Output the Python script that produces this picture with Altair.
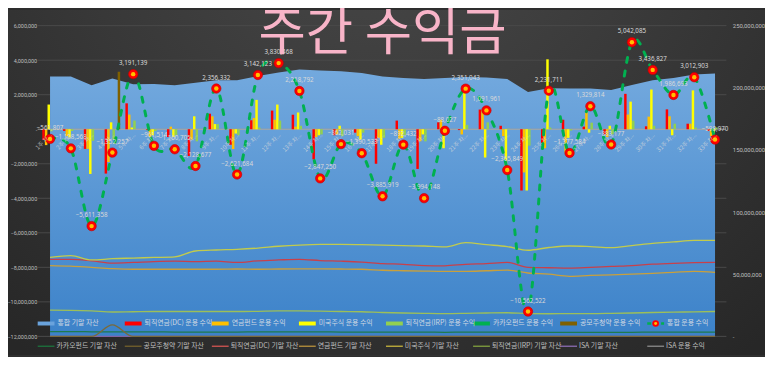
import altair as alt
import pandas as pd

# ---------------- data ----------------
weeks = ["1주 차", "2주 차", "3주 차", "4주 차", "5주 차", "6주 차", "7주 차", "8주 차",
         "9주 차", "10주 차", "11주 차", "12주 차", "13주 차", "14주 차", "15주 차", "16주 차",
         "17주 차", "18주 차", "19주 차", "20주 차", "21주 차", "22주 차", "23주 차", "24주 차",
         "25주 차", "26주 차", "27주 차", "28주 차", "29주 차", "30주 차", "31주 차", "32주 차",
         "33주 차"]

# 통합 운용 수익 (원)
total_profit = [-561807, -1108568, -5611358, -1352257, 3191139, -961514, -1160705, -2128677,
                2356332, -2621684, 3142123, 3830468, 2218792, -2847250, -862031, -1390533,
                -3885919, -892432, -3994148, -88027, 2351043, 1091961, -2365849, -10562522,
                2231711, -1377584, 1329814, -883177, 5042085, 3436827, 1986693, 3012903,
                -598970]

# 운용 수익 by account (천원)
dc_profit_k = [-620, -100, -1140, -2570, 1500, -50, -450, -1550, 900, -900, 520, 1080, 840,
               -1750, -350, -200, -2000, 500, -2300, 400, -50, 1140, 200, -3550, -800, 550,
               150, -300, 2050, 170, 1150, 320, -100]
fund_profit_k = [-920, -400, -1140, -1900, 850, -450, 150, -600, 750, -1150, 650, 550, 150,
                 -450, -300, -400, -500, -550, -700, 550, -300, 1100, -400, -2500, -1100,
                 -1350, 1000, -450, 850, 730, 750, 320, -400]
us_profit_k = [1430, -480, -2590, 400, 100, -350, -450, 750, 300, -250, 1700, 1430, 970, -350,
               200, -600, -900, -500, -300, -1100, 2450, -1640, -2200, -3550, 4050, -500, -200,
               200, 1600, 2300, -350, 2250, -200]
irp_profit_k = [-120, -100, -670, -600, 500, -100, -350, -700, 300, -350, 100, 500, 200, -300,
                -400, -200, -500, -350, -700, 50, 250, 400, 30, -950, 100, -80, 380, -300, 500,
                200, 320, 100, 100]
kakao_profit_k = [0, 0, 0, 0, 0, 0, 0, 0, 0, 0, 0, 0, 0, 0, 0, 0, 0, 0, 0, 0, 0, 0, 0, 0, 0,
                  0, 0, 0, 0, 0, 0, 0, 0]
ipo_profit_k = [0, 0, 0, 3330, 0, 0, 0, 0, 0, 0, 0, 0, 0, 0, 0, 0, 0, 0, 0, 0, 0, 0, 0, 0, 0,
                0, 0, 0, 0, 0, 0, 0, 0]
isa_profit_k = [0, 0, 0, 0, 0, 0, 0, 0, 0, 0, 0, 0, 0, 0, 0, 0, 0, 0, 0, 0, 0, 0, 0, 0, 0,
                0, 0, 0, 0, 0, 0, 0, 0]

# 기말 자산 (백만원)
total_asset_m = [209, 209, 202, 207.5, 202.8, 203, 202, 204, 206, 206, 209.4, 212.4, 214.7, 214,
                 213.4, 212, 209, 207.8, 207, 207.8, 208.6, 208.2, 207, 196.7, 199.6, 199.4,
                 199.4, 198.2, 202.2, 206, 207.8, 210.7, 211.5]
us_asset_m = [63.5, 65, 61.5, 62.5, 63, 63.5, 64, 68.7, 69.5, 70, 71, 72.5, 73.5, 74, 74, 73.8,
              73.5, 73, 72.7, 72, 75.4, 73.8, 72.2, 69.3, 71.5, 72.7, 72.2, 71.4, 73, 74.8, 76,
              77.2, 77.2]
dc_asset_m = [62, 62, 60.8, 59, 59.5, 60.2, 60.5, 60.2, 60.5, 59.5, 60.8, 61.5, 62, 61, 60.5,
              59.8, 58.6, 58, 57, 56.8, 58, 58.6, 59.5, 55.5, 55.2, 54.9, 55.5, 56.3, 57, 58.1,
              58.8, 59.3, 59.5]
fund_asset_m = [57, 56.5, 55.5, 54.5, 54, 54, 54, 54, 54, 54.2, 54, 54.2, 54.3, 54.3, 54.2, 54,
                53.2, 52.8, 52.5, 52.3, 52.3, 52.8, 53.3, 51, 50, 48.3, 49, 49.4, 50, 50.7,
                51.5, 52.3, 51.5]
irp_asset_m = [21.2, 21, 20.5, 19.6, 19.8, 20, 20, 20, 20, 20, 20.2, 20.5, 20.5, 20.3, 20, 19.8,
               19.2, 18.8, 18.5, 18.3, 18.5, 18.8, 19, 18.3, 18.2, 18.3, 18.3, 18.5, 18.8, 19.2,
               19.5, 19.7, 20]
kakao_asset_m = [3.8, 3.8, 3.7, 3.6, 3.6, 3.6, 3.5, 3.5, 3.5, 3.5, 3.6, 3.6, 3.6, 3.6, 3.5,
                 3.5, 3.4, 3.4, 3.4, 3.3, 3.4, 3.4, 3.4, 3.2, 3.2, 3.2, 3.2, 3.3, 3.3, 3.4, 3.4,
                 3.5, 3.5]
ipo_asset_m = [0, 0, 0, 9.2, 0, 0, 0, 0, 0, 0, 0, 0, 0, 0, 0, 0, 0, 0, 0, 0, 0, 0, 0, 0, 0, 0,
               0, 0, 0, 0, 0, 0, 0]
isa_asset_m = [0, 0, 0, 0, 0, 0, 0, 0, 0, 0, 0, 0, 0, 0, 0, 0, 0, 0, 0, 0, 0, 0, 0, 0, 0, 0,
               0, 0, 0, 0, 0, 0, 0]

left_ticks = [-12000000, -10000000, -8000000, -6000000, -4000000, -2000000, 0,
              2000000, 4000000, 6000000]
right_ticks = [0, 50000000, 100000000, 150000000, 200000000, 250000000]

bar_series = ["퇴직연금(DC) 운용 수익", "연금펀드 운용 수익", "미국주식 운용 수익",
              "퇴직연금(IRP) 운용 수익", "카카오펀드 운용 수익", "공모주청약 운용 수익"]
bar_colors = ["#ff0000", "#ffc000", "#ffff00", "#92d050", "#00b050", "#7f6000"]
bar_values = [dc_profit_k, fund_profit_k, us_profit_k, irp_profit_k, kakao_profit_k, ipo_profit_k]

asset_series = ["ISA 기말 자산", "카카오펀드 기말 자산", "공모주청약 기말 자산", "퇴직연금(IRP) 기말 자산",
                "연금펀드 기말 자산", "퇴직연금(DC) 기말 자산", "미국주식 기말 자산"]
asset_colors = ["#8064a2", "#1f7a4f", "#7a6a3a", "#9cbf5a", "#c9a03c", "#c8404a", "#c2cb4c"]
asset_values = [isa_asset_m, kakao_asset_m, ipo_asset_m, irp_asset_m, fund_asset_m, dc_asset_m,
                us_asset_m]

legend1_names = ["통합 기말 자산", "퇴직연금(DC) 운용 수익", "연금펀드 운용 수익", "미국주식 운용 수익",
                 "퇴직연금(IRP) 운용 수익", "카카오펀드 운용 수익", "공모주청약 운용 수익", "통합 운용 수익"]
legend1_colors = ["#6aa3dc", "#ff0000", "#ffc000", "#ffff00", "#92d050", "#00b050", "#7f6000",
                  "#00b050"]
legend2_names = ["카카오펀드 기말 자산", "공모주청약 기말 자산", "퇴직연금(DC) 기말 자산", "연금펀드 기말 자산",
                 "미국주식 기말 자산", "퇴직연금(IRP) 기말 자산", "ISA 기말 자산", "ISA 운용 수익"]
legend2_colors = ["#1d6b3a", "#6b5a2b", "#c0504d", "#a8863a", "#b4a43a", "#77933c", "#8064a2",
                  "#7f7f7f"]

# ---------------- tables ----------------
W, H = 693, 314
PAD = {"left": 32, "top": 16, "right": 40, "bottom": 19}

df_week = pd.DataFrame({
    "week": weeks,
    "wlabel": [w + "..." for w in weeks],
    "total": total_profit,
    "asset": [v * 1e6 for v in total_asset_m],
    "isa": [v * 1e3 for v in isa_profit_k],
    "zero": [0] * len(weeks),
})

bar_rows = []
for s, vals in zip(bar_series, bar_values):
    for w, v in zip(weeks, vals):
        bar_rows.append({"week": w, "series": s, "value": v * 1e3})
df_bars = pd.DataFrame(bar_rows)

line_rows = []
for s, vals in zip(asset_series, asset_values):
    for w, v in zip(weeks, vals):
        line_rows.append({"week": w, "series": s, "value": v * 1e6})
df_lines = pd.DataFrame(line_rows)

STEP = 88
X0 = -2
ROW1_Y, ROW2_Y = 301, 324
df_leg1 = pd.DataFrame({
    "label": legend1_names, "c": legend1_colors,
    "lx": [X0 + i * STEP for i in range(8)], "lx2": [X0 + i * STEP + 17 for i in range(8)],
    "tx": [X0 + i * STEP + 20 for i in range(8)], "ly": [ROW1_Y] * 8,
    "mx": [X0 + i * STEP + 8.5 for i in range(8)],
})
df_leg2 = pd.DataFrame({
    "label": legend2_names, "c": legend2_colors,
    "lx": [X0 + i * STEP for i in range(8)], "lx2": [X0 + i * STEP + 17 for i in range(8)],
    "tx": [X0 + i * STEP + 19 for i in range(8)], "ly": [ROW2_Y] * 8,
})

# ---------------- scales / encodings ----------------
LEFT = alt.Scale(domain=[-12000000, 6000000], nice=False, zero=False)
RIGHT = alt.Scale(domain=[0, 250000000], nice=False)
xenc = alt.X("week:N", sort=weeks, axis=None,
             scale=alt.Scale(type="band", paddingInner=0, paddingOuter=0))
FONT_NUM = "Noto Sans"
FONT_AX = "Liberation Sans Narrow, Roboto, Noto Sans"
FONT_KR = "Noto Sans CJK KR"
LBL = "#bfbfbf"
one = pd.DataFrame({"a": [0]})

bg_grad = {"gradient": "radial", "x1": 0.5, "y1": 0.08, "x2": 0.5, "y2": 0.08,
           "r1": 0, "r2": 0.8,
           "stops": [{"offset": 0, "color": "#4b4b4b"}, {"offset": 1, "color": "#272727"}]}
area_grad = {"gradient": "linear", "x1": 0, "y1": 0, "x2": 0, "y2": 1,
             "stops": [{"offset": 0, "color": "#73a9de"}, {"offset": 1, "color": "#3c82c9"}]}

bg = alt.Chart(one).mark_rect(fill=bg_grad).encode(
    x=alt.value(-PAD["left"]), x2=alt.value(W + PAD["right"]),
    y=alt.value(-PAD["top"]), y2=alt.value(H + PAD["bottom"]))

grid = alt.Chart(pd.DataFrame({"v": left_ticks})).mark_rule(color="#4a4a4a", strokeWidth=1).encode(
    y=alt.Y("v:Q", scale=LEFT, axis=alt.Axis(
        orient="left", values=left_ticks, grid=False, domain=False, ticks=False, title=None,
        labelExpr="datum.value == 0 ? '-' : format(datum.value, ',')",
        labelColor=LBL, labelFontSize=5.5, labelFont=FONT_AX, labelPadding=3, zindex=1)),
    x=alt.value(-2), x2=alt.value(W + 1))

area = alt.Chart(df_week).mark_area(fill=area_grad, interpolate="linear").encode(
    x=xenc,
    y=alt.Y("asset:Q", scale=RIGHT, axis=alt.Axis(
        orient="right", values=right_ticks, grid=False, domain=False, ticks=False, title=None,
        labelExpr="datum.value == 0 ? '-' : format(datum.value, ',')",
        labelColor=LBL, labelFontSize=6, labelFont=FONT_AX, labelPadding=7, zindex=1)))

asset_lines = alt.Chart(df_lines).mark_line(strokeWidth=1.3, interpolate="monotone").encode(
    x=xenc,
    y=alt.Y("value:Q", scale=RIGHT, axis=None),
    color=alt.Color("series:N", scale=alt.Scale(domain=asset_series, range=asset_colors),
                    legend=None))

isa_line = alt.Chart(df_week).mark_line(color="#7f7f7f", strokeWidth=1).encode(
    x=xenc, y=alt.Y("isa:Q", scale=LEFT, axis=None))

zero_line = alt.Chart(one).mark_rule(color="#d0d0d0", opacity=0.55, strokeWidth=1).encode(
    y=alt.Y("a:Q", scale=LEFT, axis=None), x=alt.value(-2), x2=alt.value(W))

bars = alt.Chart(df_bars).mark_bar().encode(
    x=xenc,
    xOffset=alt.XOffset("series:N", sort=bar_series,
                        scale=alt.Scale(paddingInner=0.05, paddingOuter=1)),
    y=alt.Y("value:Q", scale=LEFT, axis=None),
    color=alt.Color("series:N", scale=alt.Scale(domain=bar_series, range=bar_colors),
                    legend=None))

combo = alt.Chart(df_week).mark_line(color="#00b050", strokeWidth=3, strokeDash=[5, 9],
                                     strokeCap="round", interpolate="cardinal").encode(
    x=xenc, y=alt.Y("total:Q", scale=LEFT, axis=None))

mk_outer = alt.Chart(df_week).mark_circle(size=90, color="#ff0000", opacity=1,
                                          stroke="#c00000", strokeWidth=0.6).encode(
    x=xenc, y=alt.Y("total:Q", scale=LEFT, axis=None))
mk_inner = alt.Chart(df_week).mark_circle(size=20, color="#ffc000", opacity=1).encode(
    x=xenc, y=alt.Y("total:Q", scale=LEFT, axis=None))

dlabels = alt.Chart(df_week).mark_text(dy=-11, fontSize=6.3, color="#d9d9d9",
                                       font=FONT_NUM).encode(
    x=xenc, y=alt.Y("total:Q", scale=LEFT, axis=None),
    text=alt.Text("total:Q", format=","))

xlabels = alt.Chart(df_week).mark_text(angle=315, align="right", baseline="middle",
                                       dx=-2.8, dy=4.2, fontSize=6, color="#dcdcdc",
                                       opacity=0.75, font=FONT_KR).encode(
    x=xenc, y=alt.Y("zero:Q", scale=LEFT, axis=None), text="wlabel:N")

title = alt.Chart(one).mark_text(text="주간 수익금", fontSize=52, color="#f8b4c8",
                                 font=FONT_KR, align="center", baseline="middle").encode(
    x=alt.value(W / 2), y=alt.value(9))

# legend row 1
leg1_bars = alt.Chart(df_leg1.iloc[:7]).mark_rule(strokeWidth=4).encode(
    x=alt.X("lx:Q", scale=None), x2="lx2:Q", y=alt.Y("ly:Q", scale=None),
    color=alt.Color("c:N", scale=None))
leg1_line = alt.Chart(df_leg1.iloc[7:]).mark_rule(strokeWidth=2.5, strokeDash=[4, 3]).encode(
    x=alt.X("lx:Q", scale=None), x2="lx2:Q", y=alt.Y("ly:Q", scale=None),
    color=alt.Color("c:N", scale=None))
leg1_mk_o = alt.Chart(df_leg1.iloc[7:]).mark_circle(size=45, color="#ff0000", opacity=1).encode(
    x=alt.X("mx:Q", scale=None), y=alt.Y("ly:Q", scale=None))
leg1_mk_i = alt.Chart(df_leg1.iloc[7:]).mark_circle(size=9, color="#ffc000", opacity=1).encode(
    x=alt.X("mx:Q", scale=None), y=alt.Y("ly:Q", scale=None))
leg1_text = alt.Chart(df_leg1).mark_text(align="left", baseline="middle", fontSize=7,
                                         color="#cfd8e3", font=FONT_KR).encode(
    x=alt.X("tx:Q", scale=None), y=alt.Y("ly:Q", scale=None), text="label:N")

# legend row 2
leg2_lines = alt.Chart(df_leg2).mark_rule(strokeWidth=1.5).encode(
    x=alt.X("lx:Q", scale=None), x2="lx2:Q", y=alt.Y("ly:Q", scale=None),
    color=alt.Color("c:N", scale=None))
leg2_text = alt.Chart(df_leg2).mark_text(align="left", baseline="middle", fontSize=7,
                                         color=LBL, font=FONT_KR).encode(
    x=alt.X("tx:Q", scale=None), y=alt.Y("ly:Q", scale=None), text="label:N")

chart = alt.layer(
    bg, grid, area, asset_lines, isa_line, zero_line, bars, combo, mk_outer, mk_inner,
    dlabels, xlabels, leg1_bars, leg1_line, leg1_mk_o, leg1_mk_i, leg1_text,
    leg2_lines, leg2_text, title
).resolve_scale(
    y="independent", color="independent"
).properties(
    width=W, height=H, padding=PAD, autosize=alt.AutoSizeParams(type="none"),
    background="#2e2e2e"
).configure_view(stroke=None)

chart.save("out.html", embed_options={"renderer": "svg", "actions": False})
